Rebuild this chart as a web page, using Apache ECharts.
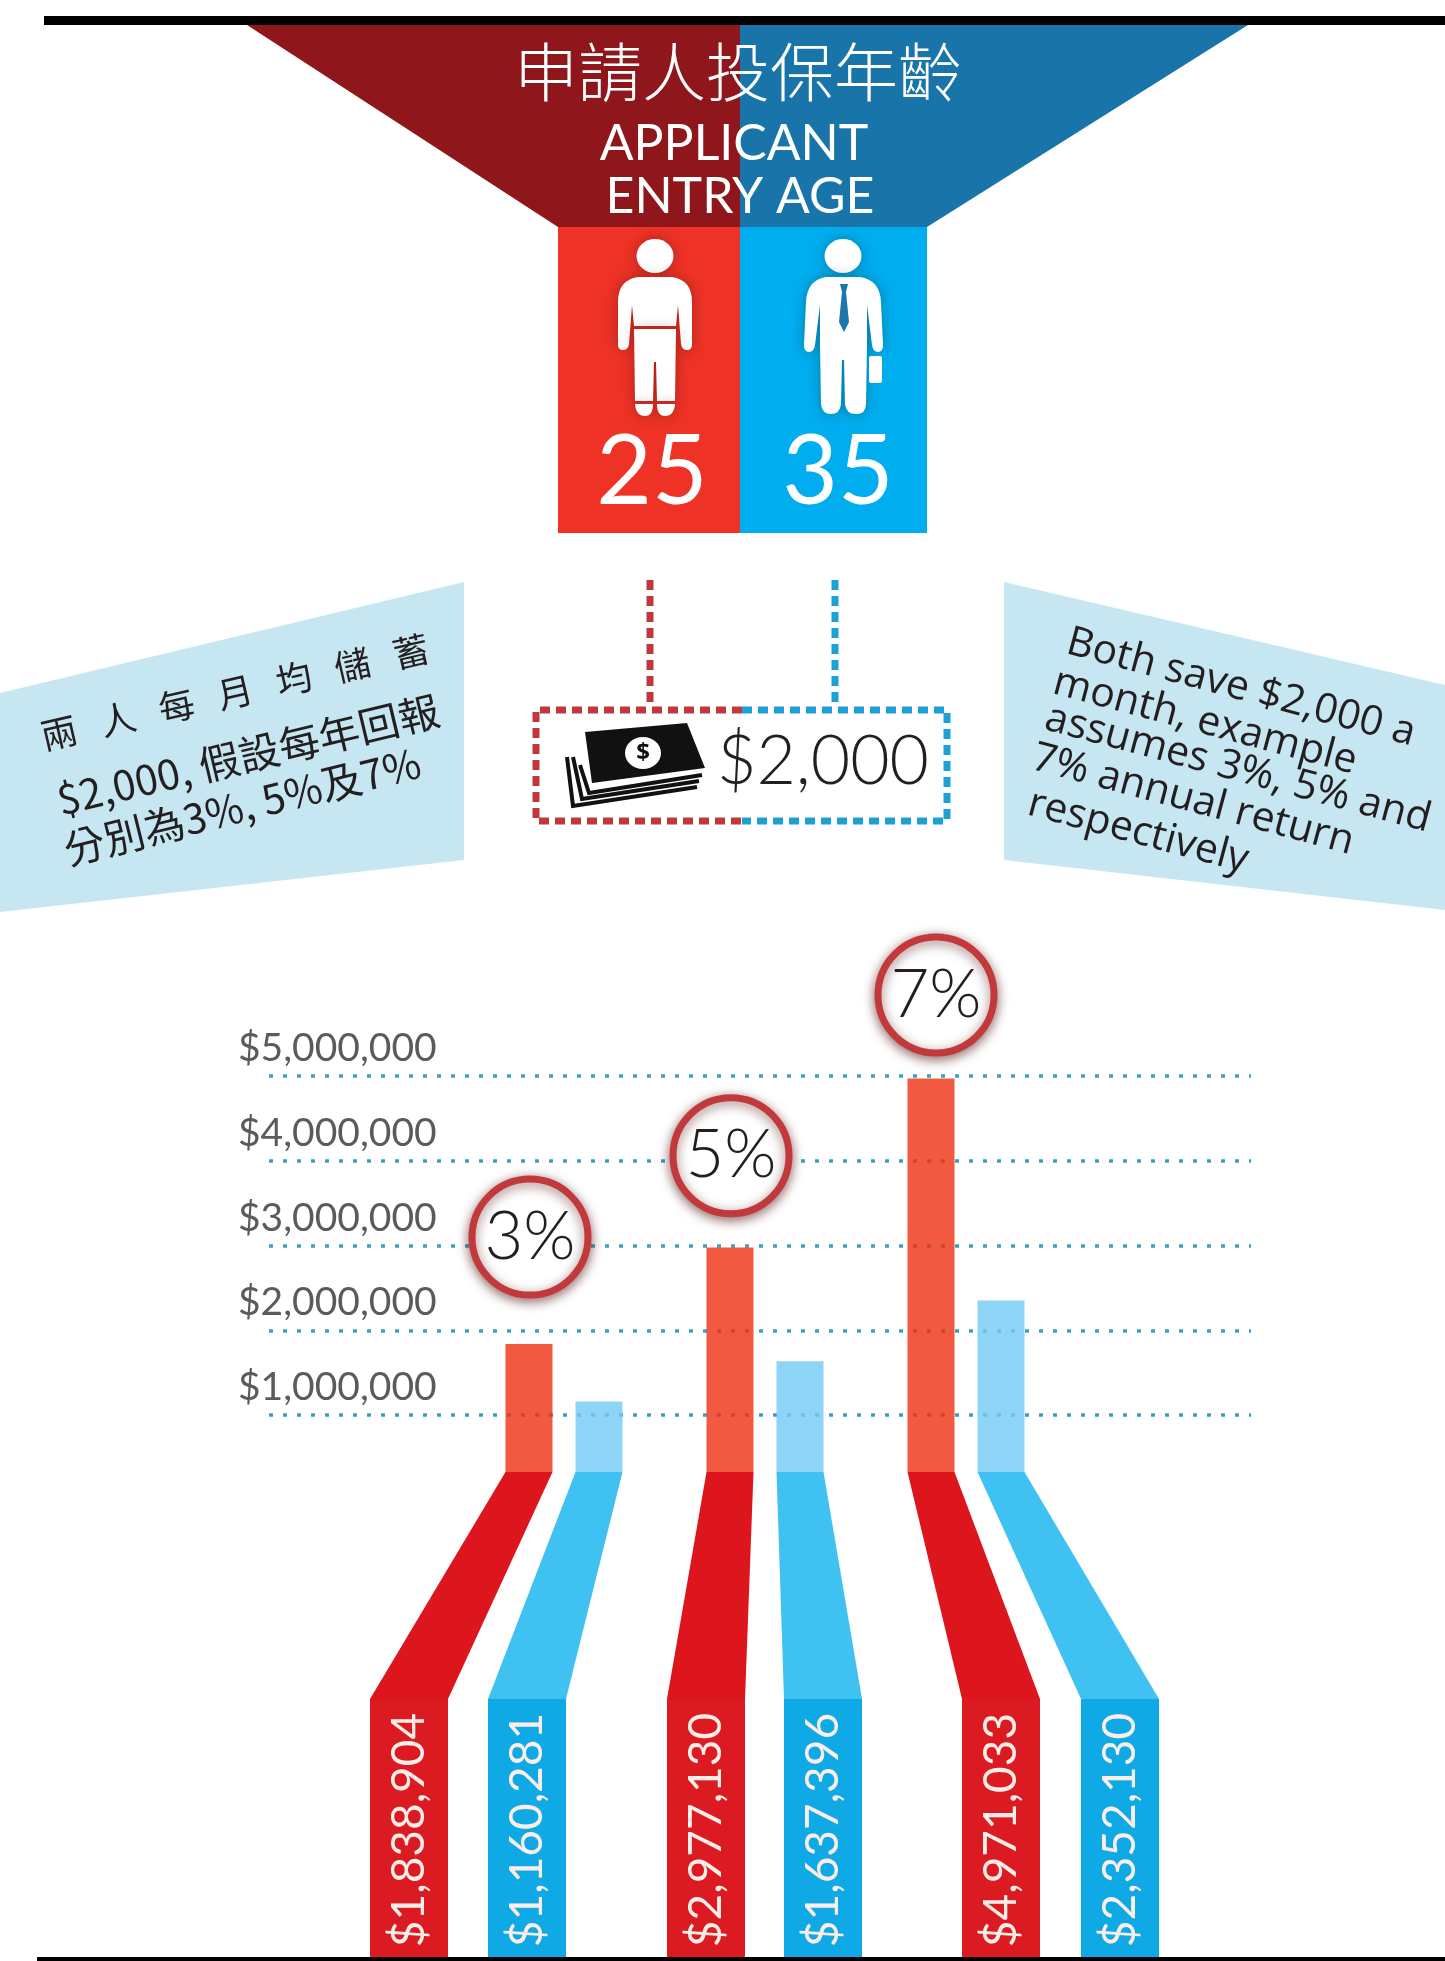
<!DOCTYPE html>
<html>
<head>
<meta charset="utf-8">
<title>申請人投保年齡</title>
<style>
  html, body { margin: 0; padding: 0; background: #fff; }
  #chart { width: 1445px; height: 1961px; }
</style>
<script src="https://cdn.jsdelivr.net/npm/echarts@6/dist/echarts.min.js"></script>
</head>
<body>
<div id="chart"></div>
<script>
// Savings outcome by annual return, for two applicants entering at 25 and 35.
const rates = ['3%', '5%', '7%'];
const age25Values = [1838904, 2977130, 4971033];
const age35Values = [1160281, 1637396, 2352130];
const axisTickValues = [1000000, 2000000, 3000000, 4000000, 5000000];
const rateBadgeValues = [3100000, 4060000, 5955000];
const titleLines = ['申請人投保年齡', 'APPLICANT', 'ENTRY AGE'];
const entryAges = ['25', '35'];
const monthlySaving = '$2,000';
const noteZh = ['兩   人   每   月   均   儲   蓄', '$2,000, 假設每年回報', '分別為3%, 5%及7%'];
const noteEn = ['Both save $2,000 a', 'month, example', 'assumes 3%, 5% and', '7% annual return', 'respectively'];

const money = v => '$' + v.toLocaleString('en-US');

// Page geometry, in pixels.
const AXIS_TOP = 1076, AXIS_ZERO = 1500, BAR_BASE = 1472;
const RIBBON_KINK = 1699, RIBBON_END = 1957;
const BAR_WIDTH = 47, STUB_WIDTH = 78, BAR_OFFSET = 35;
const stubCenters25 = [409, 706, 1001];
const stubCenters35 = [527, 823, 1120];

const COLORS = {
  darkRed: '#8f171c', darkBlue: '#1874a9', red: '#ee3226', blue: '#00aeef',
  bar25: 'rgba(238,49,16,0.8)', bar35: 'rgba(113,201,245,0.8)', ribbon25: '#dd151d', ribbon35: '#3fc2f1',
  stub25: '#dc1a21', stub35: '#0faae6', note: '#c6e7f2', ink: '#231f20',
  dashRed: '#c1383c', dashBlue: '#1f9fd3', grid: 'rgba(40,150,185,0.9)'
};
const LIGHT = '"Lato", "Open Sans", sans-serif';
const CJK = '"Noto Sans CJK TC", "Noto Sans", sans-serif';
const BODY = '"Open Sans", "Noto Sans", sans-serif';

const deg = d => d * Math.PI / 180;
const poly = (points, fill, z) => ({ type: 'polygon', z: z || 1, shape: { points }, style: { fill } });
const line = (points, stroke, dash, width) => ({
  type: 'polyline', z: 2, shape: { points },
  style: { stroke, fill: null, lineWidth: width || 7, lineDash: dash || [10, 6] }
});
const label = (text, x, y, font, fill, rotation) => ({
  type: 'text', z: 4, x, y, rotation: rotation || 0,
  style: { text, font, fill, align: 'center', verticalAlign: 'middle' }
});

const decoration = [
  // Rules along the top and bottom of the page
  { type: 'rect', z: 5, shape: { x: 44, y: 16, width: 1401, height: 9 }, style: { fill: '#000' } },
  { type: 'rect', z: 5, shape: { x: 37, y: 1957, width: 1408, height: 4 }, style: { fill: '#000' } },

  // Header funnel and age columns
  poly([[247, 25], [740, 25], [740, 227], [558, 227]], COLORS.darkRed),
  poly([[740, 25], [1248, 25], [927, 227], [740, 227]], COLORS.darkBlue),
  poly([[558, 227], [740, 227], [740, 533], [558, 533]], COLORS.red),
  poly([[740, 227], [927, 227], [927, 533], [740, 533]], COLORS.blue),
  label(titleLines[0], 738, 72, '300 64px ' + CJK, '#fff'),
  label(titleLines[1], 734, 144, '400 50px ' + LIGHT, '#fff'),
  label(titleLines[2], 740, 197, '400 50px ' + LIGHT, '#fff'),
  label(entryAges[0], 652, 473, '400 96px ' + LIGHT, '#fff'),
  label(entryAges[1], 838, 473, '400 96px ' + LIGHT, '#fff'),

  // Side notes
  poly([[0, 693], [464, 582], [464, 860], [0, 912]], COLORS.note),
  poly([[1004, 582], [1445, 685], [1445, 910], [1004, 860]], COLORS.note),
  label(noteZh[0], 235, 692, '400 36px ' + CJK, COLORS.ink, deg(13)),
  label(noteZh[1], 248, 755, '400 41px ' + CJK, COLORS.ink, deg(13.5)),
  label(noteZh[2], 242, 806, '400 41px ' + CJK, COLORS.ink, deg(14)),
  label(noteEn[0], 1241, 688, '400 41px ' + BODY, COLORS.ink, deg(-15)),
  label(noteEn[1], 1205, 722, '400 41px ' + BODY, COLORS.ink, deg(-15)),
  label(noteEn[2], 1238, 769, '400 41px ' + BODY, COLORS.ink, deg(-15)),
  label(noteEn[3], 1193, 800, '400 41px ' + BODY, COLORS.ink, deg(-15)),
  label(noteEn[4], 1138, 832, '400 41px ' + BODY, COLORS.ink, deg(-15)),

  // Dashed connectors and the monthly saving box
  line([[650, 580], [650, 703]], COLORS.dashRed),
  line([[835, 580], [835, 703]], COLORS.dashBlue),
  line([[742, 710], [536, 710], [536, 821], [742, 821]], COLORS.dashRed),
  line([[742, 710], [947, 710], [947, 821], [742, 821]], COLORS.dashBlue),
  label(monthlySaving, 823, 762, '300 68px ' + LIGHT, COLORS.ink),

  // Banknote icon
  poly([[585, 732], [687, 723], [705, 768], [592, 783]], '#111'),
  { type: 'ellipse', z: 3, shape: { cx: 643, cy: 753, rx: 18, ry: 16 }, style: { fill: '#fff' } },
  label('$', 643, 753, '700 24px ' + BODY, '#111'),
  { type: 'polyline', z: 2, shape: { points: [[580, 765], [589, 793], [702, 775]] }, style: { stroke: '#111', fill: null, lineWidth: 4 } },
  { type: 'polyline', z: 2, shape: { points: [[573, 757], [582, 799], [699, 781]] }, style: { stroke: '#111', fill: null, lineWidth: 4 } },
  { type: 'polyline', z: 2, shape: { points: [[567, 757], [573, 806], [697, 787]] }, style: { stroke: '#111', fill: null, lineWidth: 4 } }
];

// The two applicant figures, drawn as outlined silhouettes.
const FIGURE_SHADOW = { shadowBlur: 14, shadowColor: 'rgba(0,0,0,0.28)' };
function renderFigures() {
  const outline = (pathData, fill, shadow) => ({
    type: 'path', shape: { pathData },
    style: Object.assign({ fill }, shadow ? FIGURE_SHADOW : {})
  });
  return {
    type: 'group',
    children: [
      { type: 'ellipse', shape: { cx: 655, cy: 256, rx: 18.5, ry: 17 }, style: Object.assign({ fill: '#fff' }, FIGURE_SHADOW) },
      outline('M638 277 L672 277 Q692 280 692 302 L692 344 Q692 350 687 350 Q682 350 681 344 L678 305 L676 326 L634 326 L632 305 L629 344 Q628 350 623 350 Q618 350 618 344 L618 302 Q618 280 638 277 Z', '#fff', true),
      outline('M634 329 L676 329 L675 401 L657 401 L656 362 L654 362 L653 401 L635 401 Z', '#fff', true),
      outline('M635 404 L653 404 Q653 416 645 416 Q636 416 635 404 Z', '#fff', true),
      outline('M657 404 L675 404 Q674 416 665 416 Q657 416 657 404 Z', '#fff', true),
      { type: 'ellipse', shape: { cx: 843, cy: 256, rx: 18.5, ry: 17 }, style: Object.assign({ fill: '#fff' }, FIGURE_SHADOW) },
      outline('M826 277 L860 277 Q880 280 881 302 L883 345 Q883 352 878 352 Q873 352 872 345 L867 305 L867 345 L866 404 Q866 414 856 414 Q846 414 845 404 L844 360 L842 360 L841 404 Q840 414 831 414 Q822 414 821 404 L820 345 L820 305 L815 345 Q814 352 809 352 Q804 352 804 345 L806 302 Q807 280 826 277 Z', '#fff', true),
      outline('M840 284 L848 284 L846 292 L849 322 L844 332 L839 322 L842 292 Z', '#1a78ad'),
      { type: 'rect', shape: { x: 869, y: 356, width: 13, height: 27, r: 2 }, style: { fill: '#fff' } }
    ]
  };
}

// Connectors from each bar's foot down to its labelled stub.
const ribbonData = [];
rates.forEach((r, i) => {
  ribbonData.push([i, age25Values[i], 0, stubCenters25[i]]);
  ribbonData.push([i, age35Values[i], 1, stubCenters35[i]]);
});

function renderRibbon(params, api) {
  const side = api.value(2);
  const value = api.value(1);
  const stubX = api.value(3);
  const cx = api.coord([api.value(0), value])[0] + (side === 0 ? -BAR_OFFSET : BAR_OFFSET);
  const topHalf = BAR_WIDTH / 2, stubHalf = STUB_WIDTH / 2;
  return {
    type: 'group',
    children: [
      {
        type: 'polygon',
        shape: { points: [[cx - topHalf, BAR_BASE], [cx + topHalf, BAR_BASE], [stubX + stubHalf, RIBBON_KINK], [stubX - stubHalf, RIBBON_KINK]] },
        style: { fill: side === 0 ? COLORS.ribbon25 : COLORS.ribbon35 }
      },
      {
        type: 'rect',
        shape: { x: stubX - stubHalf, y: RIBBON_KINK, width: STUB_WIDTH, height: RIBBON_END - RIBBON_KINK },
        style: { fill: side === 0 ? COLORS.stub25 : COLORS.stub35 }
      },
      {
        type: 'text', x: stubX, y: 1830, rotation: Math.PI / 2,
        style: { text: money(value), font: '400 46px ' + LIGHT, fill: '#fbeee8', align: 'center', verticalAlign: 'middle' }
      }
    ]
  };
}

const chart = echarts.init(document.getElementById('chart'), null, { renderer: 'canvas' });

// The bar grid stops above the zero line so the bars meet their ribbons; its
// axis is trimmed by the same share so both grids keep one pixel-per-dollar scale.
const axisMax = axisTickValues[axisTickValues.length - 1];
const axisSpan = AXIS_ZERO - AXIS_TOP;
const barAxisMin = axisMax * (1 - (BAR_BASE - AXIS_TOP) / axisSpan);

chart.setOption({
  animation: false,
  backgroundColor: '#fff',
  grid: [
    { left: 269, width: 982, top: AXIS_TOP, height: axisSpan },
    { left: 463.5, width: 603, top: AXIS_TOP, height: BAR_BASE - AXIS_TOP }
  ],
  xAxis: [
    { gridIndex: 0, type: 'category', data: rates, show: false },
    { gridIndex: 1, type: 'category', data: rates, show: false }
  ],
  yAxis: [
    {
      gridIndex: 0, type: 'value', min: 0, max: axisMax, interval: axisTickValues[0], z: 1,
      axisLine: { show: false }, axisTick: { show: false },
      splitLine: { showMinLine: false, lineStyle: { type: [4, 10], width: 3.5, color: COLORS.grid } },
      axisLabel: {
        inside: true, margin: -31, showMinLabel: false, formatter: money,
        align: 'left', verticalAlign: 'bottom', padding: [0, 0, 8, 0],
        fontFamily: 'Lato', fontWeight: 400, fontSize: 39, color: '#5a5b5f'
      }
    },
    { gridIndex: 1, type: 'value', min: barAxisMin, max: axisMax, show: false, splitLine: { show: false } }
  ],
  series: [
    {
      name: '25', type: 'bar', xAxisIndex: 1, yAxisIndex: 1, data: age25Values,
      barWidth: BAR_WIDTH, barGap: '49%', itemStyle: { color: COLORS.bar25 }, z: 2
    },
    {
      name: '35', type: 'bar', xAxisIndex: 1, yAxisIndex: 1, data: age35Values,
      barWidth: BAR_WIDTH, itemStyle: { color: COLORS.bar35 }, z: 2
    },
    {
      type: 'custom', xAxisIndex: 1, yAxisIndex: 1, data: ribbonData, z: 4,
      clip: false, renderItem: renderRibbon, encode: { x: 0, y: 1 }
    },
    {
      type: 'custom', coordinateSystem: 'none', data: [[0]], z: 3, silent: true,
      renderItem: renderFigures
    },
    {
      type: 'scatter', xAxisIndex: 1, yAxisIndex: 1, z: 6, clip: false, silent: true,
      data: rateBadgeValues.map((v, i) => ({ value: [i, v], symbolOffset: [[-34, 0], [-34, 0], [-30, 0]][i] })),
      symbol: 'circle', symbolSize: 116,
      itemStyle: {
        color: '#fff', borderColor: '#c1393a', borderWidth: 7, opacity: 1,
        shadowBlur: 12, shadowColor: 'rgba(90,30,30,0.6)', shadowOffsetY: 3
      },
      label: {
        show: true, position: 'inside', formatter: p => rates[p.dataIndex],
        fontFamily: 'Lato', fontWeight: 300, fontSize: 67, color: COLORS.ink
      }
    }
  ],
  graphic: { elements: decoration }
});
</script>
</body>
</html>
